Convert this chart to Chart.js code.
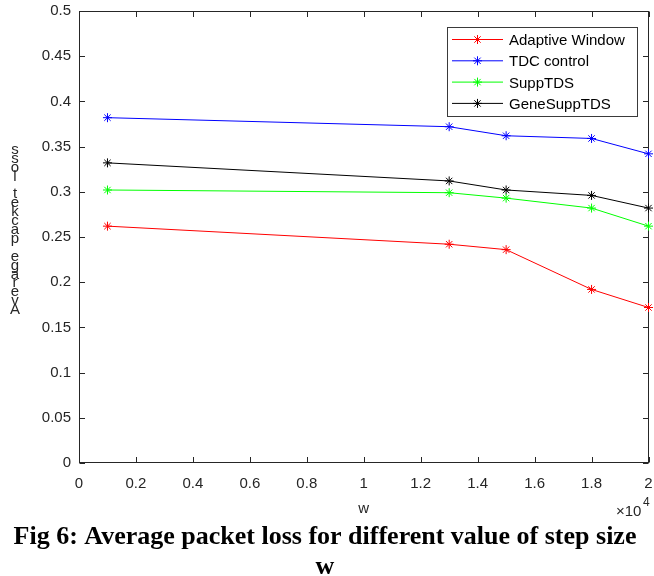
<!DOCTYPE html>
<html><head><meta charset="utf-8">
<script src="https://cdn.jsdelivr.net/npm/chart.js@4"></script>
<style>html,body{margin:0;padding:0;background:#fff}#wrap{position:relative;width:654px;height:576px}</style>
</head><body><div id="wrap"><canvas id="c" width="654" height="576"></canvas></div>
<script>
const wValues = [1000, 13000, 15000, 18000, 20000];
const seriesNames = ['Adaptive Window', 'TDC control', 'SuppTDS', 'GeneSuppTDS'];
const adaptiveWindow = [0.262, 0.242, 0.236, 0.192, 0.172];
const tdcControl = [0.382, 0.372, 0.362, 0.359, 0.342];
const suppTDS = [0.302, 0.299, 0.293, 0.282, 0.262];
const geneSuppTDS = [0.332, 0.312, 0.302, 0.296, 0.282];
const xTickLabels = ['0', '0.2', '0.4', '0.6', '0.8', '1', '1.2', '1.4', '1.6', '1.8', '2'];
const yTickLabels = ['0', '0.05', '0.1', '0.15', '0.2', '0.25', '0.3', '0.35', '0.4', '0.45', '0.5'];
const seriesColors = ['#ff0000', '#0000ff', '#00ff00', '#000000'];
const xAxisTitle = 'w';
const yAxisTitle = 'Average packet loss';
const exponentLabel = ['\u00d710', '4'];
const captionLines = ['Fig 6: Average packet loss for different value of step size', 'w'];

const seriesValues = [adaptiveWindow, tdcControl, suppTDS, geneSuppTDS];
const AXC = '#262626';
const SANS = "'Liberation Sans', Arial, sans-serif";

const decor = {
  id: 'decor',
  beforeDatasetsDraw(chart) {
    const ctx = chart.ctx, a = chart.chartArea;
    const xs = chart.scales.x, ys = chart.scales.y;
    ctx.save();
    ctx.strokeStyle = AXC; ctx.lineWidth = 1;
    const L = Math.round(a.left) + 0.5, R = Math.round(a.right) - 0.5;
    const T = Math.round(a.top) + 0.5, B = Math.round(a.bottom) - 0.5;
    ctx.strokeRect(L, T, R - L, B - T);
    const tl = 5.5;
    ctx.beginPath();
    xs.ticks.forEach(t => {
      const px = Math.round(xs.getPixelForValue(t.value)) + 0.5;
      ctx.moveTo(px, B); ctx.lineTo(px, B - tl);
      ctx.moveTo(px, T); ctx.lineTo(px, T + tl);
    });
    ys.ticks.forEach(t => {
      const py = Math.round(ys.getPixelForValue(t.value)) + 0.5;
      ctx.moveTo(L, py); ctx.lineTo(L + tl, py);
      ctx.moveTo(R, py); ctx.lineTo(R - tl, py);
    });
    ctx.stroke();
    ctx.restore();
  },
  afterDraw(chart) {
    const ctx = chart.ctx;
    ctx.save();
    // stacked y-axis label
    ctx.fillStyle = AXC;
    ctx.font = "15px " + SANS;
    ctx.textAlign = 'center'; ctx.textBaseline = 'middle';
    const chars = Array.from(yAxisTitle);
    chars.forEach((ch, i) => { ctx.fillText(ch, 15, 310 - i * 8.9); });
    // exponent label
    ctx.textAlign = 'left';
    ctx.font = "15px " + SANS;
    ctx.fillText(exponentLabel[0], 616, 512);
    ctx.font = "12px " + SANS;
    ctx.fillText(exponentLabel[1], 643, 503);
    // legend
    const bx = 447, by = 27, bw = 190, bh = 89;
    ctx.fillStyle = '#fff';
    ctx.fillRect(bx, by, bw, bh);
    ctx.strokeStyle = '#3a3a3a'; ctx.lineWidth = 1;
    ctx.strokeRect(bx + 0.5, by + 0.5, bw, bh);
    chart.data.datasets.forEach((ds, i) => {
      const y = 39.5 + i * 21.3;
      ctx.strokeStyle = ds.borderColor; ctx.lineWidth = 1;
      ctx.beginPath(); ctx.moveTo(452, y); ctx.lineTo(503, y); ctx.stroke();
      Chart.helpers.drawPoint(ctx, {pointStyle: 'star', radius: 4.5, borderWidth: 1}, 477.5, y);
      ctx.fillStyle = '#000';
      ctx.font = "15px " + SANS;
      ctx.textAlign = 'left'; ctx.textBaseline = 'middle';
      ctx.fillText(ds.label, 509, y + 1.5);
    });
    ctx.restore();
  }
};

new Chart(document.getElementById('c'), {
  type: 'line',
  data: {
    datasets: seriesNames.map((name, i) => ({
      label: name,
      data: wValues.map((w, j) => ({x: w, y: seriesValues[i][j]})),
      borderColor: seriesColors[i],
      backgroundColor: seriesColors[i],
      pointBorderColor: seriesColors[i],
      borderWidth: 1,
      pointStyle: 'star',
      pointRadius: 4.5,
      pointBorderWidth: 1,
      tension: 0,
      fill: false,
      clip: false
    }))
  },
  options: {
    responsive: false,
    animation: false,
    devicePixelRatio: 1,
    layout: {padding: {left: 0, right: 4, top: 11, bottom: 0}},
    plugins: {
      legend: {display: false},
      tooltip: {enabled: false},
      title: {
        display: true,
        position: 'bottom',
        text: captionLines,
        color: '#000',
        font: {family: "'Liberation Serif', 'Times New Roman', serif", size: 26, weight: 'bold', lineHeight: 30 / 26},
        padding: {top: 0, bottom: -6}
      }
    },
    scales: {
      x: {
        type: 'linear', min: 0, max: 20000,
        ticks: {stepSize: 2000, autoSkip: false, maxRotation: 0, padding: 12, color: AXC,
          font: {family: SANS, size: 15},
          callback: (v, i) => xTickLabels[i]},
        grid: {display: false, drawTicks: false},
        border: {display: false},
        title: {display: true, text: xAxisTitle, color: AXC, font: {family: SANS, size: 15}, padding: {top: 0, bottom: 4}},
        afterFit: s => { s.height = 59; s.paddingLeft = 0; s.paddingRight = 0; }
      },
      y: {
        type: 'linear', min: 0, max: 0.5,
        ticks: {stepSize: 0.05, autoSkip: false, padding: 8, color: AXC,
          font: {family: SANS, size: 15},
          callback: (v, i) => yTickLabels[i]},
        grid: {display: false, drawTicks: false},
        border: {display: false},
        afterFit: s => { s.width = 79; s.paddingTop = 0; s.paddingBottom = 0; }
      }
    }
  },
  plugins: [decor]
});
</script>
</body></html>
